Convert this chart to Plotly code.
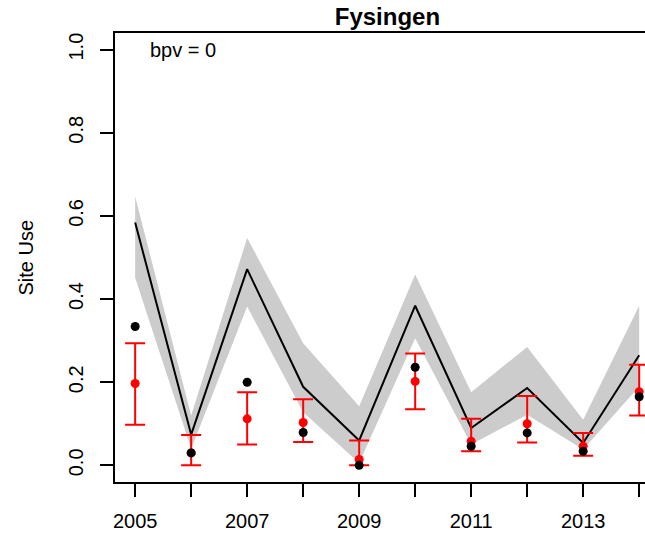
import plotly.graph_objects as go

years = [2005, 2006, 2007, 2008, 2009, 2010, 2011, 2012, 2013, 2014]

# posterior predicted site use (median and 95% band)
pred_mid = [0.584, 0.074, 0.472, 0.189, 0.060, 0.384, 0.090, 0.186, 0.054, 0.265]
pred_lo = [0.451, 0.040, 0.382, 0.128, 0.006, 0.306, 0.050, 0.122, 0.038, 0.190]
pred_hi = [0.647, 0.120, 0.547, 0.294, 0.142, 0.459, 0.176, 0.285, 0.110, 0.384]

# naive observed proportion
observed = [0.334, 0.030, 0.200, 0.079, 0.000, 0.236, 0.046, 0.078, 0.034, 0.165]

# estimated site use with interval
est = [0.197, 0.030, 0.112, 0.103, 0.014, 0.202, 0.058, 0.100, 0.046, 0.177]
est_lo = [0.098, 0.000, 0.050, 0.056, 0.000, 0.135, 0.034, 0.055, 0.023, 0.120]
est_hi = [0.294, 0.073, 0.176, 0.159, 0.060, 0.269, 0.112, 0.167, 0.078, 0.242]

yticks = [0.0, 0.2, 0.4, 0.6, 0.8, 1.0]
xlabels = [str(y) if y % 2 == 1 else "" for y in years]

font = "Liberation Sans, Arial, Helvetica, sans-serif"

fig = go.Figure()

fig.add_trace(go.Scatter(
    x=years + years[::-1],
    y=pred_hi + pred_lo[::-1],
    fill="toself", fillcolor="#cccccc",
    line=dict(width=0), mode="lines",
    hoverinfo="skip", showlegend=False,
))

fig.add_trace(go.Scatter(
    x=years, y=pred_mid, mode="lines",
    line=dict(color="black", width=2),
    showlegend=False,
))

fig.add_trace(go.Scatter(
    x=years, y=est, mode="markers",
    marker=dict(color="red", size=9),
    error_y=dict(
        type="data", symmetric=False,
        array=[h - e for h, e in zip(est_hi, est)],
        arrayminus=[e - l for e, l in zip(est, est_lo)],
        color="red", thickness=2, width=10,
    ),
    showlegend=False,
))

fig.add_trace(go.Scatter(
    x=years, y=observed, mode="markers",
    marker=dict(color="black", size=9),
    showlegend=False,
))

fig.add_annotation(
    x=2005.23, y=1.0, xref="x", yref="y",
    text="bpv = 0", showarrow=False,
    xanchor="left", yanchor="middle",
    font=dict(size=20, color="black", family=font),
)

fig.add_annotation(
    x=(25 - 115) / 530, y=0.5, xref="paper", yref="paper",
    text="Site Use", showarrow=False, textangle=-90,
    xanchor="center", yanchor="middle",
    font=dict(size=20, color="black", family=font),
)

fig.update_xaxes(
    range=[2004.64, 2014.104],
    tickvals=years, ticktext=xlabels,
    ticks="outside", ticklen=13, tickwidth=2, tickcolor="black",
    showline=True, linecolor="black", linewidth=2, mirror=True,
    showgrid=False, zeroline=False, automargin=False,
    ticklabelstandoff=7,
    tickfont=dict(size=20, color="black", family=font),
)

fig.update_yaxes(
    range=[-0.04, 1.04],
    tickvals=yticks, ticktext=["%.1f" % v for v in yticks],
    tickangle=-90,
    ticks="outside", ticklen=13, tickwidth=2, tickcolor="black",
    showline=True, linecolor="black", linewidth=2,
    showgrid=False, zeroline=False, automargin=False,
    ticklabelstandoff=9,
    tickfont=dict(size=20, color="black", family=font),
)

fig.update_layout(
    width=645, height=534, autosize=False,
    margin=dict(l=115, r=0, t=33, b=52),
    paper_bgcolor="white", plot_bgcolor="white",
    title=dict(
        text="<b>Fysingen</b>", xref="paper", x=0.514, xanchor="center",
        yref="container", y=1 - 17 / 534, yanchor="middle",
        font=dict(size=24, color="black", family=font),
    ),
    showlegend=False,
)

# no page margin so the 645x534 figure fills the window exactly
post = (
    "document.body.style.margin='0';"
    "document.body.style.overflow='hidden';"
    "var gd=document.getElementById('{plot_id}');"
    "Plotly.relayout(gd,{width:645,height:534});"
)

fig.write_html("out.html",
               config={"responsive": False, "displayModeBar": False},
               post_script=post)
